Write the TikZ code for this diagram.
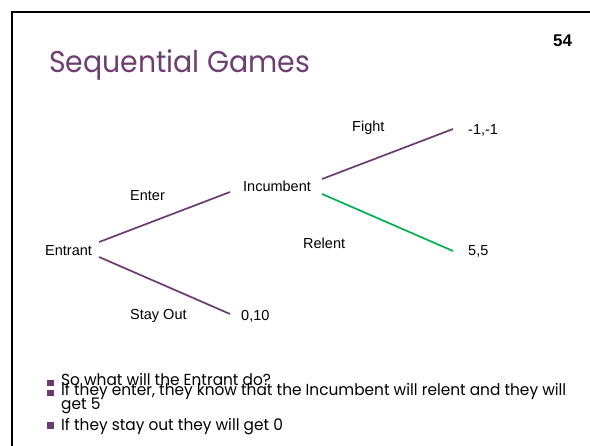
\documentclass[tikz,border=0pt]{standalone}
\usepackage{fontspec}
\setmainfont{Liberation Sans}
\newfontfamily\gothic{Poppins}
\usetikzlibrary{calc}
\definecolor{plum}{HTML}{6B3A6F}
\definecolor{titleplum}{HTML}{6E3D72}
\definecolor{relgreen}{HTML}{00B050}
\newlength\lwtitle
\newlength\lwbul
\begin{document}
\settowidth\lwtitle{\gothic\fontsize{30}{34}\selectfont Sequential Games}%
\settowidth\lwbul{\gothic\fontsize{16}{18}\selectfont If they enter, they know that the Incumbent will relent and they will}%
\pgfmathsetmacro\tratio{261/\lwtitle}%
\pgfmathsetmacro\bratio{505/\lwbul}%
\begin{tikzpicture}[x=1pt,y=-1pt,
  lbl/.style={font=\fontsize{14.5}{16}\selectfont, inner sep=0pt, text height=10.5pt, text depth=0pt, anchor=base west},
  branch/.style={draw=plum, line width=1.7pt},
  goodbranch/.style={draw=relgreen, line width=1.7pt},
  bultext/.style={inner sep=0pt, anchor=base west, font=\gothic\fontsize{16}{18}\selectfont},
  bsq/.style={fill=plum, inner sep=0pt, minimum size=6.5pt, draw=none},
  frameline/.style={draw=black, line width=2.4pt}]
\useasboundingbox (0,0) rectangle (590,446);
% frame
\coordinate (ftr) at (590,12);
\coordinate (ftl) at (12,12);
\coordinate (fbl) at (12,446);
\draw[frameline] (ftr) -- (ftl) -- (fbl);
% title and number
\node[inner sep=0pt, anchor=base west, text=titleplum] (title) at (49,72.7)
  {\scalebox{\tratio}[1]{\gothic\fontsize{30}{34}\selectfont Sequential Games}};
\node[inner sep=0pt, anchor=base west, font=\fontsize{17}{20}\selectfont\bfseries] (num) at (553,47) {54};
% tree
\node[lbl] (entrant) at (45,256) {Entrant};
\node[lbl] (incumbent) at (243,192) {Incumbent};
\node[lbl] (fightpay) at (468,135) {-1,-1};
\node[lbl] (relentpay) at (468,256) {5,5};
\node[lbl] (outpay) at (241,321) {0,10};
\node[lbl] (enterlbl) at (130,201) {Enter};
\node[lbl] (stayoutlbl) at (130,320) {Stay Out};
\node[lbl] (fightlbl) at (352,132) {Fight};
\node[lbl] (relentlbl) at (303,249) {Relent};
\draw[branch] ($(entrant.east)+(7,-8.75)$) -- ($(incumbent.west)+(-13,5.25)$);
\draw[branch] ($(entrant.east)+(7,6.25)$) -- ($(outpay.west)+(-11,-1.75)$);
\draw[branch] ($(incumbent.east)+(11,-7.75)$) -- ($(fightpay.west)+(-15,-0.75)$);
\draw[goodbranch] ($(incumbent.east)+(11,7.25)$) -- ($(relentpay.west)+(-15,0.25)$);
% bullets
\node[bsq] (sq1) at (50.5,383) {};
\node[bsq] (sq2) at (50.5,393) {};
\node[bsq] (sq3) at (50.5,425.5) {};
\node[bultext] (bl1) at (61,385.5) {\scalebox{\bratio}[1]{So what will the Entrant do?}};
\node[bultext] (bl2) at (61,395.5) {\scalebox{\bratio}[1]{If they enter, they know that the Incumbent will relent and they will}};
\node[bultext] (bl2b) at (61,410) {\scalebox{\bratio}[1]{get 5}};
\node[bultext] (bl3) at (61,431) {\scalebox{\bratio}[1]{If they stay out they will get 0}};
\end{tikzpicture}
\end{document}
